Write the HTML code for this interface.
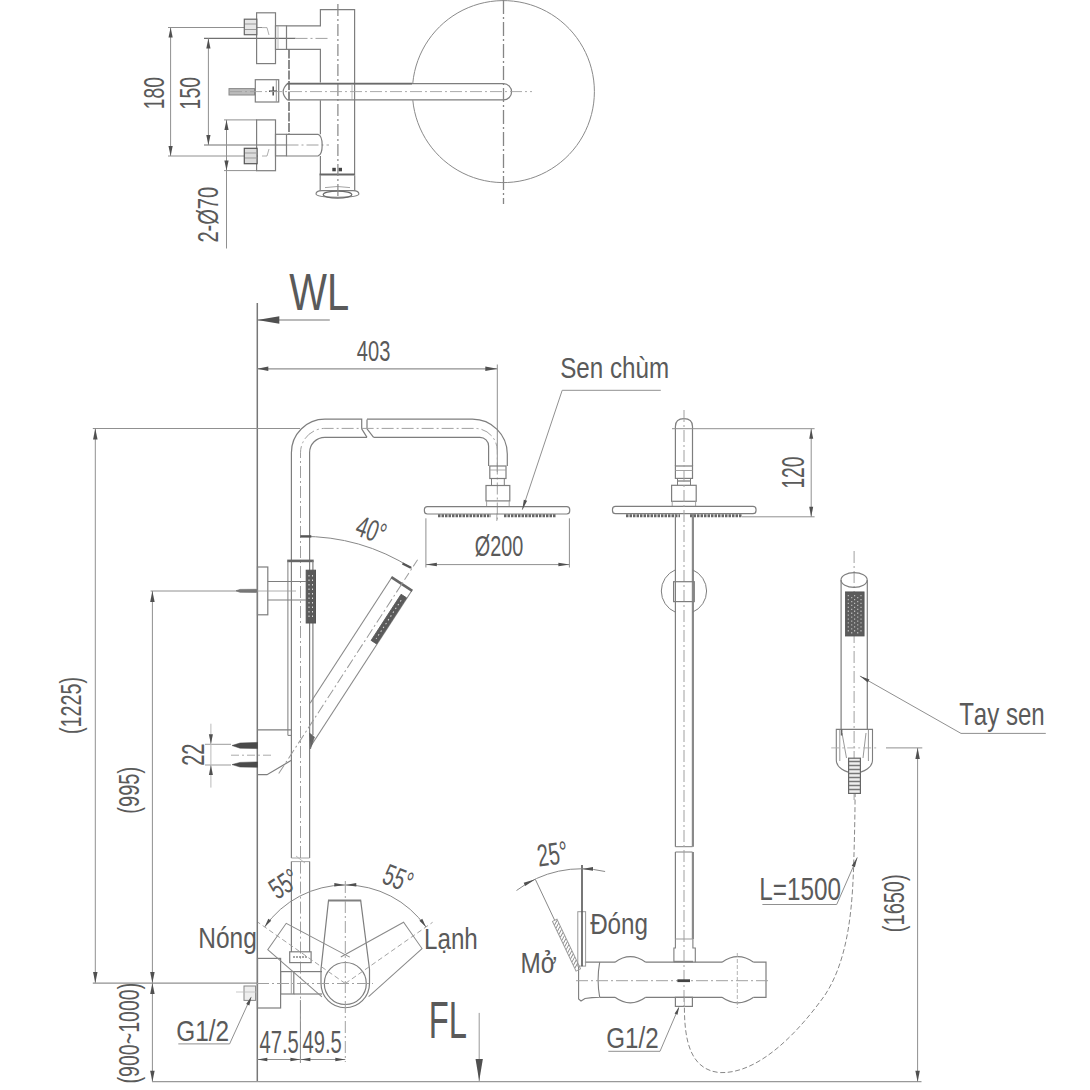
<!DOCTYPE html>
<html><head><meta charset="utf-8"><title>Drawing</title>
<style>
html,body{margin:0;padding:0;background:#fff;}
body{width:1090px;height:1090px;overflow:hidden;}
svg{display:block;}
text{font-family:"Liberation Sans",sans-serif;font-kerning:none;}
</style></head>
<body>
<svg width="1090" height="1090" viewBox="0 0 1090 1090">
<rect width="1090" height="1090" fill="#fff"/>
<line x1="168" y1="27.5" x2="262" y2="27.5" stroke="#909090" stroke-width="1.0"/>
<line x1="168" y1="156" x2="258" y2="156" stroke="#909090" stroke-width="1.0"/>
<line x1="170.6" y1="27.5" x2="170.6" y2="156" stroke="#909090" stroke-width="1.0"/>
<path d="M170.60,27.50 L172.70,37.50 L168.50,37.50 Z" fill="#505050"/>
<path d="M170.60,156.00 L168.50,146.00 L172.70,146.00 Z" fill="#505050"/>
<line x1="204" y1="38.4" x2="295.5" y2="38.4" stroke="#707070" stroke-width="1.1"/>
<line x1="204" y1="145" x2="286.5" y2="145" stroke="#707070" stroke-width="1.1"/>
<line x1="208.4" y1="38.4" x2="208.4" y2="145" stroke="#909090" stroke-width="1.0"/>
<path d="M208.40,38.40 L210.50,48.40 L206.30,48.40 Z" fill="#505050"/>
<path d="M208.40,145.00 L206.30,135.00 L210.50,135.00 Z" fill="#505050"/>
<line x1="295.5" y1="38.4" x2="329" y2="38.4" stroke="#a0a0a0" stroke-width="1.0" stroke-dasharray="12 3 2 3"/>
<line x1="286.5" y1="145" x2="329" y2="145" stroke="#a0a0a0" stroke-width="1.0" stroke-dasharray="12 3 2 3"/>
<line x1="224" y1="119.9" x2="257" y2="119.9" stroke="#909090" stroke-width="1.0"/>
<line x1="224" y1="170.6" x2="257" y2="170.6" stroke="#909090" stroke-width="1.0"/>
<line x1="226.5" y1="119.9" x2="226.5" y2="248.5" stroke="#909090" stroke-width="1.0"/>
<path d="M226.50,119.90 L228.60,129.90 L224.40,129.90 Z" fill="#505050"/>
<path d="M226.50,170.60 L224.40,160.60 L228.60,160.60 Z" fill="#505050"/>
<rect x="256.6" y="12.8" width="18.9" height="50.8" stroke="#7e7e7e" stroke-width="1.2" fill="none"/>
<rect x="256.6" y="119.9" width="18.9" height="50.8" stroke="#7e7e7e" stroke-width="1.2" fill="none"/>
<rect x="244.3" y="19.2" width="12.5" height="15.5" stroke="#666" stroke-width="1.2" fill="#e6e6e6"/>
<line x1="245" y1="24" x2="256" y2="24" stroke="#999" stroke-width="1"/>
<line x1="245" y1="29.5" x2="256" y2="29.5" stroke="#999" stroke-width="1"/>
<rect x="244.3" y="148.3" width="12.8" height="15.4" stroke="#555" stroke-width="1.2" fill="#dcdcdc"/>
<line x1="245" y1="153" x2="256" y2="153" stroke="#999" stroke-width="1"/>
<line x1="245" y1="158" x2="256" y2="158" stroke="#999" stroke-width="1"/>
<path d="M262,27.6 L267,27.6 L269,35" stroke="#999" stroke-width="0.8" fill="none"/>
<path d="M262,156 L267,156 L269,149" stroke="#999" stroke-width="0.8" fill="none"/>
<rect x="275.5" y="25.8" width="11" height="23.6" stroke="#7e7e7e" stroke-width="1.2" fill="none"/>
<rect x="275.5" y="134.3" width="11" height="21.6" stroke="#7e7e7e" stroke-width="1.2" fill="none"/>
<line x1="278" y1="26" x2="278" y2="49" stroke="#aaa" stroke-width="0.8"/>
<path d="M286.5,25.8 L320.4,25.8 L320.4,9.6 L354.6,9.6 L354.6,175.5" stroke="#7e7e7e" stroke-width="1.2" fill="none"/>
<path d="M286.5,49.4 L320.4,49.4 L320.4,82.6" stroke="#7e7e7e" stroke-width="1.2" fill="none"/>
<path d="M320.4,100.2 L320.4,134.3" stroke="#7e7e7e" stroke-width="1.2" fill="none"/>
<line x1="289" y1="49.4" x2="289" y2="134.3" stroke="#707070" stroke-width="1.6" stroke-dasharray="9 1.5"/>
<path d="M286.5,134.3 L318,134.3 A5,11 0 0 1 318,156 L286.5,156" stroke="#7e7e7e" stroke-width="1.2" fill="none"/>
<line x1="320.4" y1="156" x2="320.4" y2="175.5" stroke="#7e7e7e" stroke-width="1.2"/>
<line x1="319.5" y1="174.5" x2="354.6" y2="174.5" stroke="#666" stroke-width="2.2"/>
<rect x="332.3" y="167.8" width="3.5" height="3.5" stroke="none" stroke-width="0" fill="#444"/>
<rect x="338.5" y="167.8" width="3.5" height="3.5" stroke="none" stroke-width="0" fill="#444"/>
<line x1="320.2" y1="175.5" x2="320.2" y2="190.8" stroke="#7e7e7e" stroke-width="1.2"/>
<line x1="354.7" y1="175.5" x2="354.7" y2="190.8" stroke="#7e7e7e" stroke-width="1.2"/>
<path d="M316,194.1 Q316,190.6 322,190.6 L353,190.6 Q358.9,190.6 358.9,194.1 Q358.9,197.2 337.5,197.2 Q316,197.2 316,194.1 Z" stroke="#7e7e7e" stroke-width="1.1" fill="none"/>
<ellipse cx="337.5" cy="194.6" rx="14.3" ry="3.5" stroke="#6a6a6a" stroke-width="1.2" fill="none"/>
<path d="M325,187.6 Q337.5,185.4 350,187.6" stroke="#999" stroke-width="0.9" fill="none"/>
<line x1="337.9" y1="4" x2="337.9" y2="198" stroke="#858585" stroke-width="1.2" stroke-dasharray="12 3 2 3"/>
<rect x="229" y="88.6" width="25.5" height="6.4" stroke="#888" stroke-width="1.0" fill="#bbb"/>
<rect x="255.3" y="79.7" width="23.4" height="22.3" stroke="#7e7e7e" stroke-width="1.2" fill="none"/>
<line x1="276.3" y1="80" x2="276.3" y2="102" stroke="#999" stroke-width="1.0"/>
<line x1="273.2" y1="86.5" x2="273.2" y2="95.5" stroke="#555" stroke-width="1.6"/>
<line x1="269" y1="91.2" x2="277" y2="91.2" stroke="#555" stroke-width="1.6"/>
<path d="M287.3,83.7 L503.5,83.7 A8.1,8.1 0 0 1 503.5,99.9 L287.3,99.9 Q279,91.8 287.3,83.7" stroke="#7e7e7e" stroke-width="1.2" fill="none"/>
<line x1="287.3" y1="83.7" x2="412" y2="83.7" stroke="#6a6a6a" stroke-width="1.8"/>
<line x1="352" y1="84" x2="352" y2="99" stroke="#aaa" stroke-width="0.8"/>
<line x1="230" y1="91.6" x2="532" y2="91.6" stroke="#a0a0a0" stroke-width="0.9" stroke-dasharray="12 3 2 3"/>
<path d="M 412.8,83 A 91,91 0 1 1 412.8,100.2" stroke="#8a8a8a" stroke-width="1.0" fill="none"/>
<line x1="503.5" y1="0" x2="503.5" y2="204" stroke="#858585" stroke-width="1.3" stroke-dasharray="14 3 2 3"/>
<line x1="257.3" y1="303" x2="257.3" y2="1081.7" stroke="#777" stroke-width="1.5"/>
<line x1="257.3" y1="320" x2="329.8" y2="320" stroke="#777" stroke-width="1.2"/>
<path d="M257.30,320.00 L279.30,316.25 L279.30,323.75 Z" fill="#505050"/>
<line x1="257.3" y1="368.8" x2="497.3" y2="368.8" stroke="#909090" stroke-width="1.2"/>
<path d="M257.30,368.80 L268.30,366.55 L268.30,371.05 Z" fill="#505050"/>
<path d="M497.30,368.80 L485.30,371.05 L485.30,366.55 Z" fill="#505050"/>
<line x1="497.3" y1="364.5" x2="497.3" y2="472" stroke="#909090" stroke-width="1.0"/>
<line x1="92.8" y1="428.5" x2="300" y2="428.5" stroke="#909090" stroke-width="1.0"/>
<line x1="95.3" y1="428.5" x2="95.3" y2="983.1" stroke="#909090" stroke-width="1.0"/>
<path d="M95.30,428.50 L97.55,439.50 L93.05,439.50 Z" fill="#505050"/>
<path d="M95.30,983.10 L93.05,972.10 L97.55,972.10 Z" fill="#505050"/>
<line x1="150.6" y1="591" x2="257" y2="591" stroke="#909090" stroke-width="1.0"/>
<line x1="152.4" y1="591" x2="152.4" y2="1081.7" stroke="#909090" stroke-width="1.0"/>
<path d="M152.40,591.00 L154.65,602.00 L150.15,602.00 Z" fill="#505050"/>
<path d="M152.40,983.10 L150.15,972.10 L154.65,972.10 Z" fill="#505050"/>
<line x1="92.8" y1="983.1" x2="257" y2="983.1" stroke="#909090" stroke-width="1.2"/>
<path d="M152.40,983.10 L154.65,994.10 L150.15,994.10 Z" fill="#505050"/>
<path d="M152.40,1081.70 L150.15,1070.70 L154.65,1070.70 Z" fill="#505050"/>
<line x1="152" y1="1081.7" x2="921.5" y2="1081.7" stroke="#999" stroke-width="1.2"/>
<path d="M291.4,858 L291.4,452.7 A33.5,33.5 0 0 1 324.9,419.2 L361.7,419.2 L361.7,428.8 L367,437.4" stroke="#7e7e7e" stroke-width="1.2" fill="none"/>
<path d="M367,419.4 L367,428.8 L373.6,437.4" stroke="#7e7e7e" stroke-width="1.2" fill="none"/>
<path d="M367,419.2 L472.4,419.2 A34.9,34.9 0 0 1 507.3,454.1 L507.3,466" stroke="#7e7e7e" stroke-width="1.2" fill="none"/>
<path d="M309.6,858 L309.6,452.6 A15.3,15.3 0 0 1 324.9,437.3 L367,437.3" stroke="#7e7e7e" stroke-width="1.2" fill="none"/>
<path d="M373.6,437.3 L479.9,437.3 A8.7,8.7 0 0 1 488.6,446 L488.6,466" stroke="#7e7e7e" stroke-width="1.2" fill="none"/>
<path d="M300.5,858 L300.5,452.8 A24.4,24.4 0 0 1 324.9,428.4 L475,428.4 A22.3,22.3 0 0 1 497.3,450.7 L497.3,521" stroke="#a0a0a0" stroke-width="1.0" fill="none" stroke-dasharray="12 3 2 3"/>
<line x1="291.4" y1="858" x2="309.6" y2="858" stroke="#999" stroke-width="0.9"/>
<line x1="291.4" y1="861.6" x2="309.6" y2="861.6" stroke="#999" stroke-width="0.9"/>
<path d="M296,856 L305,863" stroke="#aaa" stroke-width="0.8" fill="none"/>
<line x1="291.4" y1="861.6" x2="291.4" y2="952" stroke="#7e7e7e" stroke-width="1.2"/>
<line x1="309.6" y1="861.6" x2="309.6" y2="952" stroke="#7e7e7e" stroke-width="1.2"/>
<line x1="300.5" y1="861.6" x2="300.5" y2="1062" stroke="#a0a0a0" stroke-width="1.0" stroke-dasharray="12 3 2 3"/>
<rect x="489.8" y="466" width="16.2" height="12.5" stroke="#7e7e7e" stroke-width="1.2" fill="none"/>
<line x1="490" y1="470" x2="506" y2="470" stroke="#999" stroke-width="0.8"/>
<path d="M491.5,478.5 L491.5,486 M504.3,478.5 L504.3,486" stroke="#7e7e7e" stroke-width="1.0" fill="none"/>
<rect x="486" y="485.5" width="23.8" height="15.4" stroke="#7e7e7e" stroke-width="1.2" fill="none"/>
<path d="M486.6,501 L486.6,506.5 M509.2,501 L509.2,506.5" stroke="#999" stroke-width="0.9" fill="none"/>
<rect x="424.4" y="506.6" width="145.3" height="7.4" stroke="#7e7e7e" stroke-width="1.2" fill="none" rx="3"/>
<path d="M438,515.8 L491,515.8 M504,515.8 L556,515.8" stroke="#666" stroke-width="3.0" fill="none" stroke-dasharray="2.5 1"/>
<line x1="496.8" y1="513.5" x2="496.8" y2="521" stroke="#999" stroke-width="0.8"/>
<line x1="425.9" y1="518.3" x2="425.9" y2="567.5" stroke="#909090" stroke-width="1.0"/>
<line x1="569.4" y1="518.3" x2="569.4" y2="567.5" stroke="#909090" stroke-width="1.0"/>
<line x1="425.9" y1="564.6" x2="569.4" y2="564.6" stroke="#909090" stroke-width="1.0"/>
<path d="M425.90,564.60 L436.90,562.85 L436.90,566.35 Z" fill="#505050"/>
<path d="M569.40,564.60 L558.40,566.35 L558.40,562.85 Z" fill="#505050"/>
<line x1="562.2" y1="390.3" x2="660.8" y2="390.3" stroke="#909090" stroke-width="1.0"/>
<line x1="562.2" y1="390.3" x2="522.3" y2="509.7" stroke="#909090" stroke-width="1.0"/>
<path d="M522.30,509.70 L523.82,499.66 L527.14,500.77 Z" fill="#505050"/>
<line x1="287.2" y1="560.9" x2="313.7" y2="560.9" stroke="#666" stroke-width="2.6"/>
<line x1="287.9" y1="560.9" x2="287.9" y2="735.4" stroke="#7e7e7e" stroke-width="1.0"/>
<line x1="312.9" y1="560.9" x2="312.9" y2="735" stroke="#7e7e7e" stroke-width="1.2"/>
<line x1="287.9" y1="735.4" x2="291.4" y2="735.4" stroke="#7e7e7e" stroke-width="1.0"/>
<rect x="306.2" y="570.2" width="9.3" height="52.8" stroke="#555" stroke-width="1.0" fill="#5a5a5a"/>
<path d="M309,575 L309,618 M312.5,575 L312.5,618" stroke="#ddd" stroke-width="1.0" fill="none" stroke-dasharray="1.5 3"/>
<rect x="257.5" y="567" width="10.3" height="47.8" stroke="#7e7e7e" stroke-width="1.2" fill="none"/>
<line x1="267.8" y1="581.5" x2="306" y2="581.5" stroke="#7e7e7e" stroke-width="1.2"/>
<line x1="267.8" y1="600" x2="306" y2="600" stroke="#7e7e7e" stroke-width="1.2"/>
<path d="M236,590.8 L240,589.4 L256.5,589.3 L256.5,592.4 L240,592.3 Z" stroke="#666" stroke-width="0.6" fill="#777"/>
<line x1="257" y1="591" x2="296" y2="591" stroke="#999" stroke-width="0.8"/>
<line x1="257.3" y1="729.9" x2="291.4" y2="729.9" stroke="#7e7e7e" stroke-width="1.2"/>
<path d="M257.3,774.7 L267,774.7 L291.4,760.3" stroke="#7e7e7e" stroke-width="1.2" fill="none"/>
<path d="M257.5,742.4 L240,743 L232,745.5 L240,748.2 L257.5,748.6 Z" stroke="#444" stroke-width="0.5" fill="#4a4a4a"/>
<path d="M257.5,761.9 L240,762.4 L232,764.6 L240,767 L257.5,767.3 Z" stroke="#444" stroke-width="0.5" fill="#4a4a4a"/>
<line x1="231" y1="755.2" x2="272" y2="755.2" stroke="#a0a0a0" stroke-width="0.9" stroke-dasharray="8 3 2 3"/>
<line x1="205" y1="744.3" x2="231" y2="744.3" stroke="#909090" stroke-width="0.9"/>
<line x1="205" y1="765" x2="231" y2="765" stroke="#909090" stroke-width="0.9"/>
<line x1="210.9" y1="723.7" x2="210.9" y2="787.6" stroke="#bbb" stroke-width="1.0"/>
<path d="M210.90,744.30 L208.90,734.30 L212.90,734.30 Z" fill="#505050"/>
<path d="M210.90,765.00 L212.90,775.00 L208.90,775.00 Z" fill="#505050"/>
<path d="M300.5,536.4 A203.6,203.6 0 0 1 412,568.3" stroke="#888" stroke-width="1.0" fill="none"/>
<line x1="300.4" y1="536.4" x2="311.3" y2="536.4" stroke="#555" stroke-width="2.4"/>
<path d="M402.5,563.5 L411,567.8" stroke="#555" stroke-width="2.4" fill="none"/>
<g transform="translate(300.5,740) rotate(33)">
<line x1="-12" y1="-186" x2="-12" y2="-36" stroke="#888" stroke-width="1.1"/>
<line x1="12" y1="-186" x2="12" y2="0" stroke="#888" stroke-width="1.1"/>
<line x1="-12.5" y1="-186" x2="12.5" y2="-186" stroke="#666" stroke-width="2.6"/>
<line x1="0" y1="-215" x2="0" y2="-186" stroke="#a0a0a0" stroke-width="1.0" stroke-dasharray="8 3 2 3"/>
<line x1="0" y1="-186" x2="0" y2="40" stroke="#999" stroke-width="1.0" stroke-dasharray="10 3 2 3"/>
<rect x="5" y="-177" width="6.5" height="55" stroke="#555" stroke-width="0.8" fill="#5a5a5a"/>
<line x1="8.3" y1="-172" x2="8.3" y2="-126" stroke="#ddd" stroke-width="1.0" stroke-dasharray="1.5 3"/>
</g>
<path d="M309.5,733 L314.5,737 L310.5,749 Z" stroke="#555" stroke-width="0.5" fill="#666"/>
<rect x="289.7" y="951.8" width="21.4" height="10.8" stroke="#7e7e7e" stroke-width="1.2" fill="none"/>
<line x1="293" y1="957" x2="307" y2="957" stroke="#888" stroke-width="1.6" stroke-dasharray="2 1"/>
<rect x="257.5" y="958.4" width="23.1" height="49.6" stroke="#7e7e7e" stroke-width="1.2" fill="none"/>
<rect x="280.6" y="971.6" width="13.2" height="22.4" stroke="#7e7e7e" stroke-width="1.2" fill="none"/>
<line x1="291.3" y1="971.6" x2="291.3" y2="994" stroke="#999" stroke-width="0.9"/>
<line x1="293.8" y1="971.6" x2="322" y2="971.6" stroke="#7e7e7e" stroke-width="1.2"/>
<line x1="293.8" y1="994" x2="322" y2="994" stroke="#7e7e7e" stroke-width="1.2"/>
<rect x="244" y="986" width="11.6" height="14.4" stroke="#888" stroke-width="1.0" fill="#eee"/>
<line x1="236" y1="992" x2="257" y2="992" stroke="#bbb" stroke-width="0.8"/>
<line x1="250.8" y1="997.5" x2="229.6" y2="1043.9" stroke="#909090" stroke-width="1.0"/>
<line x1="178.3" y1="1043.9" x2="229.6" y2="1043.9" stroke="#909090" stroke-width="1.0"/>
<path d="M251.50,996.50 L249.35,1005.41 L246.17,1003.96 Z" fill="#505050"/>
<path d="M328.5,900.6 L321,969.2 L321,983.5 A24.25,24.25 0 0 0 369.5,983.5 L369.5,969.2 L360.7,900.6" stroke="#7e7e7e" stroke-width="1.2" fill="none"/>
<line x1="328" y1="900.6" x2="361.2" y2="900.6" stroke="#808080" stroke-width="2.0"/>
<circle cx="345.3" cy="983.5" r="21" stroke="#7e7e7e" stroke-width="1.2" fill="none"/>
<g transform="rotate(-55 345.3 983.5)">
<path d="M321,972 L328.5,900.6 L360.7,900.6 L369.5,972" stroke="#8a8a8a" stroke-width="1.0" fill="none"/>
</g>
<g transform="rotate(55 345.3 983.5)">
<path d="M321,972 L328.5,900.6 L360.7,900.6 L369.5,972" stroke="#8a8a8a" stroke-width="1.0" fill="none"/>
</g>
<path d="M264.6,927 A98.5,98.5 0 0 1 426,927" stroke="#888" stroke-width="1.0" fill="none"/>
<line x1="345.3" y1="983.5" x2="258" y2="922.3" stroke="#999" stroke-width="0.9" stroke-dasharray="5 3"/>
<line x1="345.3" y1="983.5" x2="432.6" y2="922.3" stroke="#999" stroke-width="0.9" stroke-dasharray="5 3"/>
<path d="M264.60,927.00 L268.33,918.63 L271.20,920.63 Z" fill="#505050"/>
<path d="M426.00,927.00 L419.40,920.63 L422.27,918.63 Z" fill="#505050"/>
<path d="M345.30,885.00 L334.27,886.58 L334.34,882.98 Z" fill="#505050"/>
<path d="M345.30,885.00 L356.26,882.98 L356.33,886.58 Z" fill="#505050"/>
<line x1="345.3" y1="881" x2="345.3" y2="1062" stroke="#a0a0a0" stroke-width="1.0" stroke-dasharray="12 3 2 3"/>
<line x1="257" y1="983.5" x2="373" y2="983.5" stroke="#a0a0a0" stroke-width="1.0" stroke-dasharray="12 3 2 3"/>
<line x1="257.3" y1="1059.5" x2="345.3" y2="1059.5" stroke="#909090" stroke-width="1.0"/>
<path d="M257.30,1059.50 L267.30,1057.75 L267.30,1061.25 Z" fill="#505050"/>
<path d="M300.40,1059.50 L290.40,1061.25 L290.40,1057.75 Z" fill="#505050"/>
<path d="M300.40,1059.50 L310.40,1057.75 L310.40,1061.25 Z" fill="#505050"/>
<path d="M345.30,1059.50 L335.30,1061.25 L335.30,1057.75 Z" fill="#505050"/>
<line x1="300.4" y1="1000" x2="300.4" y2="1063" stroke="#909090" stroke-width="1.0"/>
<line x1="479.2" y1="1012.9" x2="479.2" y2="1081" stroke="#999" stroke-width="1.0"/>
<path d="M479.20,1081.00 L475.55,1059.00 L482.85,1059.00 Z" fill="#505050"/>
<path d="M675.4,466 L675.4,426.5 Q675.4,418.6 683.95,418.6 Q692.5,418.6 692.5,426.5 L692.5,466" stroke="#7e7e7e" stroke-width="1.2" fill="none"/>
<rect x="675.4" y="466" width="17.1" height="12.4" stroke="#7e7e7e" stroke-width="1.2" fill="none"/>
<line x1="675.4" y1="470.5" x2="692.5" y2="470.5" stroke="#999" stroke-width="0.9"/>
<path d="M677.5,478.4 L677.5,485.3 M690.5,478.4 L690.5,485.3" stroke="#7e7e7e" stroke-width="1.0" fill="none"/>
<line x1="677.5" y1="481" x2="690.5" y2="481" stroke="#888" stroke-width="1.4"/>
<rect x="671.6" y="485.3" width="24.6" height="16" stroke="#7e7e7e" stroke-width="1.2" fill="none"/>
<path d="M672.2,501.3 L672.2,506.3 M695.6,501.3 L695.6,506.3" stroke="#999" stroke-width="0.9" fill="none"/>
<rect x="612.5" y="506.3" width="143.5" height="7.4" stroke="#7e7e7e" stroke-width="1.2" fill="none" rx="3"/>
<path d="M626,515.8 L680,515.8 M690,515.8 L742,515.8" stroke="#666" stroke-width="3.0" fill="none" stroke-dasharray="2.5 1"/>
<line x1="675.4" y1="513.7" x2="675.4" y2="846.7" stroke="#7e7e7e" stroke-width="1.2"/>
<line x1="692.9" y1="513.7" x2="692.9" y2="846.7" stroke="#8a8a8a" stroke-width="2.2"/>
<line x1="675.4" y1="846.7" x2="692.5" y2="846.7" stroke="#7e7e7e" stroke-width="1.0"/>
<line x1="675.4" y1="852" x2="692.5" y2="852" stroke="#7e7e7e" stroke-width="1.0"/>
<line x1="675.4" y1="852" x2="675.4" y2="939" stroke="#7e7e7e" stroke-width="1.2"/>
<line x1="692.9" y1="852" x2="692.9" y2="939" stroke="#8a8a8a" stroke-width="2.2"/>
<path d="M675.4,939 L675.4,948 L673.9,948 L673.9,962.2 M692.9,939 L692.9,948 L695.3,948 L695.3,962.2" stroke="#7e7e7e" stroke-width="1.1" fill="none"/>
<line x1="675.4" y1="939" x2="692.9" y2="939" stroke="#999" stroke-width="1.0"/>
<line x1="674" y1="961.6" x2="693" y2="961.6" stroke="#888" stroke-width="1.6"/>
<line x1="684.0" y1="410" x2="684.0" y2="1008" stroke="#a0a0a0" stroke-width="1.0" stroke-dasharray="12 3 2 3"/>
<path d="M675.4,569.8 A23,23 0 0 0 675.4,612.2 M692.5,569.8 A23,23 0 0 1 692.5,612.2" stroke="#7e7e7e" stroke-width="1.0" fill="none"/>
<rect x="673.6" y="581.7" width="20.7" height="19.9" stroke="#7e7e7e" stroke-width="1.2" fill="none"/>
<line x1="672" y1="428.7" x2="814.6" y2="428.7" stroke="#909090" stroke-width="1.0"/>
<line x1="742" y1="516.8" x2="814.6" y2="516.8" stroke="#909090" stroke-width="1.0"/>
<line x1="811.2" y1="428.7" x2="811.2" y2="516.8" stroke="#909090" stroke-width="1.0"/>
<path d="M811.20,428.70 L813.20,438.70 L809.20,438.70 Z" fill="#505050"/>
<path d="M811.20,516.80 L809.20,506.80 L813.20,506.80 Z" fill="#505050"/>
<path d="M584.9,962.2 L615,962.2 M645.7,962.2 L722,962.2 M753.6,962.2 L766,962.2 L766,997.3 L753.6,997.3 M722,997.3 L645.7,997.3 M615,997.3 L600,997.3" stroke="#7e7e7e" stroke-width="1.2" fill="none"/>
<path d="M615,962.2 Q630.3,951 645.7,962.2 M722,962.2 Q737.8,951 753.6,962.2" stroke="#7e7e7e" stroke-width="1.1" fill="none"/>
<path d="M615,997.3 Q630.3,1008.5 645.7,997.3 M722,997.3 Q737.8,1008.5 753.6,997.3" stroke="#7e7e7e" stroke-width="1.1" fill="none"/>
<path d="M578.6,966.3 L578.6,999 L581,1001 L585,998.5 L592,997.6 L600,997.3 M599.7,962.2 Q596.5,980 599.7,997.3" stroke="#7e7e7e" stroke-width="1.1" fill="none"/>
<line x1="576" y1="980.7" x2="770" y2="980.7" stroke="#a0a0a0" stroke-width="1.0" stroke-dasharray="12 3 2 3"/>
<line x1="737.3" y1="953" x2="737.3" y2="1008" stroke="#aaa" stroke-width="0.9" stroke-dasharray="4 2"/>
<line x1="677.4" y1="980.7" x2="690" y2="980.7" stroke="#444" stroke-width="2.8"/>
<rect x="675.4" y="997.3" width="17" height="9.1" stroke="#7e7e7e" stroke-width="1.2" fill="none"/>
<line x1="684.4" y1="997.3" x2="684.4" y2="1007" stroke="#aaa" stroke-width="0.8"/>
<rect x="577.8" y="911.7" width="7.8" height="54.4" stroke="#9a9a9a" stroke-width="1.0" fill="none"/>
<line x1="582" y1="865" x2="582" y2="966.3" stroke="#555" stroke-width="1.6"/>
<g transform="translate(579.5,972.5) rotate(-25.4)">
<rect x="-2.5" y="-57.8" width="5" height="55" stroke="#9a9a9a" stroke-width="0.9" fill="none"/>
<path d="M-2.2,-6.0 L2.2,-9.2 M-2.2,-9.4 L2.2,-12.6 M-2.2,-12.8 L2.2,-16.0 M-2.2,-16.2 L2.2,-19.4 M-2.2,-19.6 L2.2,-22.8 M-2.2,-23.0 L2.2,-26.2 M-2.2,-26.4 L2.2,-29.6 M-2.2,-29.8 L2.2,-33.0 M-2.2,-33.2 L2.2,-36.4 M-2.2,-36.6 L2.2,-39.8 M-2.2,-40.0 L2.2,-43.2 M-2.2,-43.4 L2.2,-46.6 M-2.2,-46.8 L2.2,-50.0 M-2.2,-50.2 L2.2,-53.4 M-2.2,-53.6 L2.2,-56.8" stroke="#8a8a8a" stroke-width="0.9" fill="none"/>
</g>
<path d="M516.5,890.5 A107,107 0 0 1 605.1,871.5" stroke="#888" stroke-width="1.0" fill="none"/>
<line x1="535.3" y1="879.3" x2="554.7" y2="920.3" stroke="#888" stroke-width="1.0"/>
<path d="M535.30,879.30 L525.19,886.01 L523.67,882.75 Z" fill="#505050"/>
<path d="M582.00,868.90 L593.00,867.10 L593.00,870.70 Z" fill="#505050"/>
<line x1="678.7" y1="1007.7" x2="660" y2="1051.3" stroke="#909090" stroke-width="1.0"/>
<line x1="608.3" y1="1051.3" x2="660" y2="1051.3" stroke="#909090" stroke-width="1.0"/>
<path d="M679.20,1006.80 L677.52,1014.78 L674.58,1013.52 Z" fill="#505050"/>
<path d="M684.4,1007.7 C684.5,1040 690,1070 720,1072.6 C760,1074 800,1030 825,995 C848,960 852,910 853.5,870 C854.5,840 855,815 855.1,793.4" stroke="#888" stroke-width="1.0" fill="none" stroke-dasharray="5 2.5"/>
<line x1="762.4" y1="904.5" x2="836.7" y2="904.5" stroke="#909090" stroke-width="1.0"/>
<line x1="836.7" y1="904.5" x2="857.3" y2="857.4" stroke="#909090" stroke-width="1.0"/>
<path d="M857.30,857.40 L854.90,867.26 L851.69,865.86 Z" fill="#505050"/>
<line x1="854.1" y1="551" x2="854.1" y2="800" stroke="#a0a0a0" stroke-width="1.0" stroke-dasharray="12 3 2 3"/>
<path d="M841.1,580 L841.1,729.7 M867.3,580 L867.3,729.7" stroke="#7e7e7e" stroke-width="1.2" fill="none"/>
<ellipse cx="854.1" cy="580" rx="13.1" ry="7.4" stroke="#7e7e7e" stroke-width="1.1" fill="none"/>
<rect x="845.4" y="591.9" width="18.7" height="44.1" stroke="#555" stroke-width="0.8" fill="#5c5c5c"/>
<path d="M848.3,595 L848.3,634 M851.7,597 L851.7,634 M854.6,595 L854.6,634 M857.7,597 L857.7,634 M861,595 L861,634" stroke="#bbb" stroke-width="1.2" fill="none" stroke-dasharray="1.3 2.6"/>
<path d="M836.3,729.4 L872.5,729.4 L872.5,760 A18.1,12.8 0 0 1 836.3,760 Z" stroke="#7e7e7e" stroke-width="1.1" fill="none"/>
<path d="M839.8,730 L839.8,761 M868.4,730 L868.4,761" stroke="#999" stroke-width="1.0" fill="none"/>
<path d="M842,733 L846.5,758 M866,733 L863,758" stroke="#999" stroke-width="1.0" fill="none"/>
<line x1="841.6" y1="729.4" x2="841.6" y2="735.5" stroke="#666" stroke-width="1.6"/>
<line x1="831.2" y1="747.9" x2="878.6" y2="747.9" stroke="#aaa" stroke-width="0.9" stroke-dasharray="8 3 2 3"/>
<rect x="848.6" y="758.2" width="11.8" height="35.2" stroke="#666" stroke-width="1.2" fill="#eee"/>
<path d="M849,761.5 L860,761.5 M849,765.5 L860,765.5 M849,769.5 L860,769.5 M849,773.5 L860,773.5 M849,777.5 L860,777.5 M849,781.5 L860,781.5 M849,785.5 L860,785.5 M849,789.5 L860,789.5" stroke="#777" stroke-width="1.6" fill="none"/>
<line x1="859.9" y1="676" x2="961" y2="733.4" stroke="#909090" stroke-width="1.0"/>
<line x1="961" y1="733.4" x2="1045.8" y2="733.4" stroke="#909090" stroke-width="1.0"/>
<path d="M859.90,676.00 L869.46,679.42 L867.73,682.46 Z" fill="#505050"/>
<line x1="886" y1="747.9" x2="922.3" y2="747.9" stroke="#909090" stroke-width="1.0"/>
<line x1="917.6" y1="747.9" x2="917.6" y2="1081.7" stroke="#909090" stroke-width="1.0"/>
<path d="M917.60,747.90 L919.85,758.90 L915.35,758.90 Z" fill="#505050"/>
<path d="M917.60,1081.70 L915.35,1070.70 L919.85,1070.70 Z" fill="#505050"/>
<text transform="translate(163.90,107.90) rotate(-90) scale(0.6411,1) translate(-2.30,0)" font-size="30.23" fill="#5a5a5a">180</text>
<text transform="translate(200.40,107.90) rotate(-90) scale(0.6472,1) translate(-2.28,0)" font-size="29.94" fill="#5a5a5a">150</text>
<text transform="translate(217.85,241.60) rotate(-90) scale(0.6893,1) translate(-1.46,0)" font-size="29.12" fill="#5a5a5a">2-Ø70</text>
<text transform="translate(289.50,309.80) scale(0.7724,1) translate(-0.23,0)" font-size="51.70" fill="#5a5a5a">WL</text>
<text transform="translate(357.30,360.50) scale(0.6702,1) translate(-0.69,0)" font-size="30.00" fill="#5a5a5a">403</text>
<text transform="translate(561.30,378.40) scale(0.8311,1) translate(-1.32,0)" font-size="29.10" fill="#5a5a5a">Sen chùm</text>
<text transform="translate(475.50,556.00) scale(0.6581,1) translate(-1.04,0)" font-size="30.10" fill="#5a5a5a">Ø200</text>
<text transform="translate(370.90,529.80) rotate(20) translate(-14.60,10.33) scale(0.6600,1)" font-size="30.00" fill="#5a5a5a">40°</text>
<text transform="translate(804.10,487.10) rotate(-90) scale(0.6203,1) translate(-2.36,0)" font-size="30.93" fill="#5a5a5a">120</text>
<text transform="translate(81.30,732.80) rotate(-90) scale(0.6736,1) translate(-1.82,0)" font-size="29.30" fill="#5a5a5a">(1225)</text>
<text transform="translate(139.30,812.50) rotate(-90) scale(0.6666,1) translate(-1.87,0)" font-size="30.20" fill="#5a5a5a">(995)</text>
<text transform="translate(204.40,764.80) rotate(-90) scale(0.6431,1) translate(-1.57,0)" font-size="31.20" fill="#5a5a5a">22</text>
<text transform="translate(959.70,724.70) scale(0.7520,1) translate(-0.72,0)" font-size="32.00" fill="#5a5a5a">Tay sen</text>
<text transform="translate(761.20,900.40) scale(0.7774,1) translate(-2.56,0)" font-size="31.25" fill="#5a5a5a">L=1500</text>
<text transform="translate(904.00,930.90) rotate(-90) scale(0.6619,1) translate(-1.87,0)" font-size="30.20" fill="#5a5a5a">(1650)</text>
<text transform="translate(552.30,853.90) rotate(-8) translate(-15.14,10.84) scale(0.6400,1)" font-size="31.50" fill="#5a5a5a">25°</text>
<text transform="translate(590.30,934.30) scale(0.8077,1) translate(-0.21,0)" font-size="30.00" fill="#5a5a5a">Đóng</text>
<text transform="translate(522.50,973.30) scale(0.8244,1) translate(-2.42,0)" font-size="29.50" fill="#5a5a5a">Mở</text>
<text transform="translate(283.80,883.80) rotate(-33) translate(-14.28,9.98) scale(0.6600,1)" font-size="29.00" fill="#5a5a5a">55°</text>
<text transform="translate(398.00,878.30) rotate(22) translate(-14.32,10.33) scale(0.6400,1)" font-size="30.00" fill="#5a5a5a">55°</text>
<text transform="translate(200.30,948.40) scale(0.8062,1) translate(-2.49,0)" font-size="30.40" fill="#5a5a5a">Nóng</text>
<text transform="translate(426.00,949.10) scale(0.8124,1) translate(-2.44,0)" font-size="29.80" fill="#5a5a5a">Lạnh</text>
<text transform="translate(177.40,1040.80) scale(0.8126,1) translate(-1.51,0)" font-size="30.00" fill="#5a5a5a">G1/2</text>
<text transform="translate(260.00,1052.60) scale(0.6412,1) translate(-0.72,0)" font-size="31.50" fill="#5a5a5a">47.5</text>
<text transform="translate(302.90,1052.60) scale(0.6412,1) translate(-0.72,0)" font-size="31.50" fill="#5a5a5a">49.5</text>
<text transform="translate(431.50,1037.70) scale(0.6218,1) translate(-4.31,0)" font-size="52.60" fill="#5a5a5a">FL</text>
<text transform="translate(607.50,1047.60) scale(0.8046,1) translate(-1.51,0)" font-size="30.00" fill="#5a5a5a">G1/2</text>
<text transform="translate(138.80,1082.20) rotate(-90) scale(0.6566,1) translate(-1.85,0)" font-size="29.80" fill="#5a5a5a">(900~1000)</text>
</svg>
</body></html>
